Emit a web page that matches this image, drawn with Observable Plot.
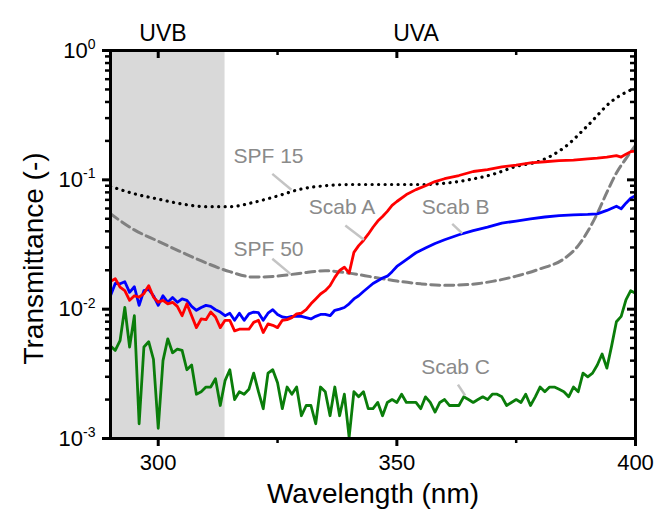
<!DOCTYPE html>
<html>
<head>
<meta charset="utf-8">
<script src="https://cdn.jsdelivr.net/npm/d3@7"></script>
<script src="https://cdn.jsdelivr.net/npm/@observablehq/plot@0.6"></script>
<style>
  body { margin: 0; background: #fff; }
  svg { display: block; }
</style>
</head>
<body>
<div id="chart"></div>
<script>
// ---------- data ----------
const nmAB = [...d3.range(290, 351), 352, 354, 356, 358, 360, 363, 366, 369, 372, 375, 378, 381, 384, 387, 390, 392, 394, 396, 397, 398, 399, 400];
const scabA = [
  0.0164, 0.0172, 0.0148, 0.0139, 0.0117, 0.0127, 0.0124, 0.0132, 0.0152, 0.0124,
  0.0113, 0.0117, 0.0110, 0.0113, 0.0105, 0.0089, 0.0110, 0.0089, 0.0072, 0.0084,
  0.0083, 0.0095, 0.0087, 0.0072, 0.0082, 0.0082, 0.0068, 0.0070, 0.0070, 0.0070,
  0.0079, 0.0082, 0.0066, 0.0077, 0.0075, 0.0072, 0.0082, 0.0083, 0.0086, 0.0092,
  0.0093, 0.0099, 0.0110, 0.0120, 0.0131, 0.0139, 0.0152, 0.0176, 0.0199, 0.0211,
  0.0190, 0.0275, 0.031, 0.034, 0.038, 0.043, 0.048, 0.052, 0.057, 0.0635,
  0.068,
  0.077, 0.084, 0.090, 0.097, 0.102, 0.108, 0.116, 0.120, 0.126, 0.130,
  0.135, 0.138, 0.141, 0.142, 0.145, 0.147, 0.150, 0.154, 0.150, 0.158, 0.165, 0.167
];
const scabB = [
  0.0127, 0.0158, 0.0157, 0.0163, 0.0135, 0.0149, 0.0107, 0.0139, 0.0142, 0.0127,
  0.0107, 0.0127, 0.0113, 0.0123, 0.0113, 0.0120, 0.0117, 0.0105, 0.0098, 0.0103,
  0.0107, 0.0105, 0.0099, 0.0095, 0.0089, 0.0093, 0.0082, 0.0093, 0.0082, 0.0092,
  0.0095, 0.0094, 0.0082, 0.0093, 0.0099, 0.0091, 0.0087, 0.0086, 0.0088, 0.0088,
  0.0088, 0.0086, 0.0084, 0.0088, 0.0091, 0.0091, 0.0089, 0.0098, 0.0100, 0.0103,
  0.0110, 0.0120, 0.0127, 0.0137, 0.0147, 0.0158, 0.0166, 0.0174, 0.0180, 0.0195,
  0.0214,
  0.0242, 0.0273, 0.0297, 0.0322, 0.0344, 0.0376, 0.0405, 0.0431, 0.0463, 0.048,
  0.0499, 0.0516, 0.0528, 0.0536, 0.054, 0.0546, 0.058, 0.0625, 0.0598, 0.066, 0.072, 0.0755
];
const nmC = d3.range(290, 401);
const scabC = [
  0.0052, 0.0048, 0.0057, 0.0103, 0.0051, 0.0089, 0.0013, 0.0051, 0.0056, 0.0041,
  0.0012, 0.0040, 0.0059, 0.0046, 0.0049, 0.0048, 0.0034, 0.0037, 0.0022, 0.0023,
  0.0025, 0.0025, 0.0029, 0.0018, 0.0028, 0.0034, 0.0020, 0.0023, 0.0022, 0.0024,
  0.0032, 0.0023, 0.0017, 0.0032, 0.0034, 0.0027, 0.0017, 0.0025, 0.0022, 0.0025,
  0.0015, 0.0018, 0.0018, 0.0013, 0.0025, 0.0023, 0.0015, 0.0025, 0.0015, 0.0022,
  0.00102, 0.0023, 0.0021, 0.0023, 0.0017, 0.0017, 0.0019, 0.0015, 0.0019, 0.0020,
  0.0019, 0.0022, 0.0019, 0.0019, 0.0019, 0.0017, 0.0021, 0.0019, 0.0016, 0.0019,
  0.0020, 0.0018, 0.0018, 0.0018, 0.0021, 0.0020, 0.0019, 0.0020, 0.0021, 0.0020,
  0.0022, 0.0022, 0.0021, 0.0018, 0.0019, 0.0020, 0.0019, 0.0022, 0.0018, 0.0021,
  0.0025, 0.0023, 0.0025, 0.0025, 0.0024, 0.0023, 0.0021, 0.0025, 0.0023, 0.0032,
  0.0030, 0.0032, 0.0037, 0.0045, 0.0035, 0.0052, 0.0080, 0.0088, 0.0118, 0.0139,
  0.0133
];
const nmSPF15 = [290, 295, 300, 305, 310, 315, 320, 325, 330, 335, 340, 345, 350, 355, 360, 365, 370, 375, 380, 385, 390, 395, 400];
const spf15 = [0.089, 0.078, 0.071, 0.065, 0.062, 0.062, 0.067, 0.075, 0.085, 0.090, 0.092, 0.092, 0.092, 0.092, 0.094, 0.100, 0.110, 0.127, 0.140, 0.177, 0.263, 0.405, 0.514];
const nmSPF50 = [290, 295, 300, 305, 310, 315, 320, 325, 330, 335, 340, 345, 350, 355, 360, 365, 370, 375, 380, 385, 388, 390, 392, 394, 396, 398, 400];
const spf50 = [0.0546, 0.041, 0.0335, 0.0275, 0.0228, 0.0195, 0.0177, 0.018, 0.019, 0.0198, 0.019, 0.0177, 0.0165, 0.0157, 0.0153, 0.0155, 0.0164, 0.018, 0.0205, 0.0245, 0.031, 0.040, 0.055, 0.080, 0.113, 0.146, 0.185];

// UV regions
const uvbRange = [290, 314];
const regionLabels = ["UVB", "UVA"];
const regionLabelNm = [301, 354];

// curve annotations
const annLabels = ["SPF 15", "SPF 50", "Scab A", "Scab B", "Scab C"];
const annNm = [323.1, 323.1, 338.5, 362.3, 362.3];
const annT = [0.153, 0.0293, 0.0618, 0.0618, 0.00358];
const leadNm1 = [323.9, 323.9, 339.2, 361.6, 362.8];
const leadT1 = [0.1112, 0.0245, 0.0443, 0.0457, 0.00261];
const leadNm2 = [327.9, 327.7, 343.1, 363.7, 364.3];
const leadT2 = [0.0837, 0.01875, 0.0344, 0.0386, 0.00215];

// ticks
const xTicks = [300, 350, 400];
const xMinorTicks = [325, 375];
const yTicks = [0.001, 0.01, 0.1, 1];
const yTickExp = ["-3", "-2", "-1", "0"];
const yMinorTicks = [0.001, 0.01, 0.1].flatMap(d => [2, 3, 4, 5, 6, 7, 8, 9].map(m => m * d));

// ---------- tables ----------
const toRows = (xs, ys) => xs.map((x, i) => ({x, y: ys[i]}));
const rowsA = toRows(nmAB, scabA);
const rowsB = toRows(nmAB, scabB);
const rowsC = toRows(nmC, scabC);
const rows15 = toRows(nmSPF15, spf15);
const rows50 = toRows(nmSPF50, spf50);
const ann = annLabels.map((t, i) => ({t, x: annNm[i], y: annT[i], x1: leadNm1[i], y1: leadT1[i], x2: leadNm2[i], y2: leadT2[i]}));
const regions = regionLabels.map((t, i) => ({t, x: regionLabelNm[i]}));
const expByTick = new Map(yTicks.map((d, i) => [d, yTickExp[i]]));

const font = "'Liberation Sans', Arial, Helvetica, sans-serif";
const plotH = 520 - 50 - 82;
const plotW = 670 - 110 - 35;

const chart = Plot.plot({
  width: 670,
  height: 520,
  marginLeft: 110,
  marginRight: 35,
  marginTop: 50,
  marginBottom: 82,
  style: {fontFamily: font, fontSize: "22px", background: "white", color: "black", overflow: "visible"},
  x: {domain: [290, 400], label: null},
  y: {type: "log", domain: [0.001, 1], label: null},
  marks: [
    Plot.rectX([uvbRange], {x1: d => d[0], x2: d => d[1], fill: "#d9d9d9"}),
    Plot.line(rows50, {x: "x", y: "y", stroke: "#808080", strokeWidth: 3, strokeDasharray: "9 5", curve: "monotone-x"}),
    Plot.line(rows15, {x: "x", y: "y", stroke: "black", strokeWidth: 3.2, strokeDasharray: "0.1 6.4", strokeLinecap: "round", curve: "monotone-x"}),
    Plot.line(rowsC, {x: "x", y: "y", stroke: "#0a7d0a", strokeWidth: 2.8}),
    Plot.line(rowsB, {x: "x", y: "y", stroke: "#0000ff", strokeWidth: 2.8}),
    Plot.line(rowsA, {x: "x", y: "y", stroke: "#ff0000", strokeWidth: 2.8}),
    Plot.link(ann, {x1: "x1", y1: "y1", x2: "x2", y2: "y2", stroke: "#c4c4c4", strokeWidth: 2.5}),
    Plot.text(ann, {x: "x", y: "y", text: "t", fill: "#8a8a8a", fontSize: 21}),
    Plot.text(regions, {x: "x", frameAnchor: "top", textAnchor: "middle", text: "t", dy: -26, fontSize: 23, fill: "black"}),
    // frame
    Plot.frame({stroke: "black", strokeWidth: 3}),
    // bottom axis (outward)
    Plot.axisX({ticks: xTicks, tickSize: 8, tickPadding: 8, strokeWidth: 3, fontSize: 22, tickFormat: d => String(d)}),
    Plot.axisX({ticks: xMinorTicks, tickSize: 5, strokeWidth: 2.5, tickFormat: () => ""}),
    // top ticks (inward)
    Plot.tickX(xTicks, {x: d => d, insetBottom: plotH - 8, stroke: "black", strokeWidth: 3}),
    Plot.tickX(xMinorTicks, {x: d => d, insetBottom: plotH - 5, stroke: "black", strokeWidth: 2.5}),
    // left axis (outward)
    Plot.axisY({ticks: yTicks, tickSize: 8, tickPadding: 7, strokeWidth: 3, fontSize: 22, tickFormat: d => "10^" + expByTick.get(d)}),
    Plot.axisY({ticks: yMinorTicks, tickSize: 5, strokeWidth: 2.5, tickFormat: () => ""}),
    // right ticks (inward)
    Plot.tickY(yTicks, {y: d => d, insetLeft: plotW - 8, stroke: "black", strokeWidth: 3}),
    Plot.tickY(yMinorTicks, {y: d => d, insetLeft: plotW - 5, stroke: "black", strokeWidth: 2.5}),
    // axis titles
    Plot.text(["Wavelength (nm)"], {frameAnchor: "bottom", textAnchor: "middle", dy: 64, fontSize: 28, fill: "black"}),
    Plot.text(["Transmittance (-)"], {frameAnchor: "left", textAnchor: "middle", dx: -76, dy: 14, rotate: -90, fontSize: 28, fill: "black"})
  ]
});

// superscript exponents on the y tick labels
d3.select(chart).selectAll('g[aria-label="y-axis tick label"] text').each(function () {
  const t = d3.select(this);
  const s = t.text();
  if (!s.includes("^")) return;
  const [base, exp] = s.split("^");
  t.text(null);
  t.append("tspan").text(base);
  t.append("tspan").attr("dy", "-0.6em").attr("font-size", "14px").text(exp);
});

document.getElementById("chart").appendChild(chart);
</script>
</body>
</html>
